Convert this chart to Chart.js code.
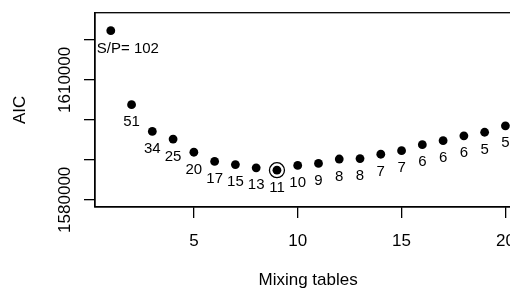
<!DOCTYPE html>
<html><head><meta charset="utf-8">
<script src="https://cdn.jsdelivr.net/npm/chart.js@4/dist/chart.umd.min.js"></script>
<style>
html,body{margin:0;padding:0;width:510px;height:288px;overflow:hidden;background:#fff}
canvas{display:block}
</style></head>
<body>
<canvas id="c" width="530" height="300"></canvas>
<script>
const mixingTables = [1,2,3,4,5,6,7,8,9,10,11,12,13,14,15,16,17,18,19,20];
const aicValues = [1622300,1603800,1597100,1595200,1591900,1589600,1588800,1588000,1587400,1588600,
                   1589100,1590200,1590300,1591400,1592300,1593800,1594800,1596000,1596900,1598500];
const pointLabels = ["S/P= 102","51","34","25","20","17","15","13","11","10",
                     "9","8","8","7","7","6","6","6","5","5"];
const xTicks = [5,10,15,20];
const yTicks = [1580000,1590000,1600000,1610000,1620000];
const yTickLabels = [1580000,1610000];
const xTitle = "Mixing tables";
const yTitle = "AIC";

const FONT = '"Liberation Sans", Arial, sans-serif';
const points = mixingTables.map((x,i)=>({x:x, y:aicValues[i]}));
const bestIdx = aicValues.indexOf(Math.min(...aicValues));
const bestPoint = [points[bestIdx]];

const boxPlugin = {
  id:'box',
  afterDraw(chart){
    const {ctx, chartArea:a} = chart;
    ctx.save();
    ctx.strokeStyle = '#000';
    ctx.lineWidth = 1.3;
    ctx.strokeRect(a.left, a.top, a.right - a.left, a.bottom - a.top);
    ctx.restore();
  }
};
const labelPlugin = {
  id:'ptlabels',
  afterDatasetsDraw(chart){
    const ctx = chart.ctx;
    const meta = chart.getDatasetMeta(0);
    ctx.save();
    ctx.fillStyle = '#000';
    ctx.font = '15px ' + FONT;
    ctx.textBaseline = 'middle';
    meta.data.forEach((el,i)=>{
      if (i === 0) { ctx.textAlign = 'left'; ctx.fillText(pointLabels[i], el.x - 14, el.y + 18); }
      else { ctx.textAlign = 'center'; ctx.fillText(pointLabels[i], el.x, el.y + 17.5); }
    });
    ctx.restore();
  }
};

const axisCommon = {
  grid:{display:true, drawOnChartArea:false, drawTicks:true, tickLength:11, color:'#000', lineWidth:1.3},
  border:{display:true, color:'#000', width:1.3}
};

new Chart(document.getElementById('c'), {
  type:'scatter',
  data:{datasets:[
    {data:points, pointRadius:4.4, pointHoverRadius:4.4, backgroundColor:'#000', borderWidth:0},
    {data:bestPoint, pointRadius:7.5, pointHoverRadius:7.5, backgroundColor:'rgba(0,0,0,0)', borderColor:'#000', borderWidth:1.3}
  ]},
  options:{
    responsive:false, animation:false, events:[],
    layout:{padding:{top:12.7, right:7, left:0, bottom:0}},
    plugins:{legend:{display:false}, tooltip:{enabled:false}},
    scales:{
      x:{
        type:'linear', position:'bottom', min:0.24, max:20.76,
        afterBuildTicks(s){ s.ticks = xTicks.map(v=>({value:v})); },
        afterFit(s){ s.height = 93; },
        ticks:{autoSkip:false, maxRotation:0, padding:13, color:'#000', font:{family:FONT, size:17},
               callback:v=>String(v)},
        title:{display:true, text:xTitle, color:'#000', font:{family:FONT, size:17}, padding:{top:0, bottom:9.5}},
        ...axisCommon
      },
      y:{
        type:'linear', position:'left', min:1578200, max:1626800,
        afterBuildTicks(s){ s.ticks = yTicks.map(v=>({value:v})); },
        afterFit(s){ s.width = 95; },
        ticks:{autoSkip:false, minRotation:90, maxRotation:90, crossAlign:'center', padding:-14.9,
               color:'#000', font:{family:FONT, size:17},
               callback:v=> yTickLabels.includes(v) ? String(v) : ''},
        title:{display:true, text:yTitle, color:'#000', font:{family:FONT, size:17}, padding:{top:10.6, bottom:0}},
        ...axisCommon
      }
    }
  },
  plugins:[boxPlugin, labelPlugin]
});
</script>
</body></html>
